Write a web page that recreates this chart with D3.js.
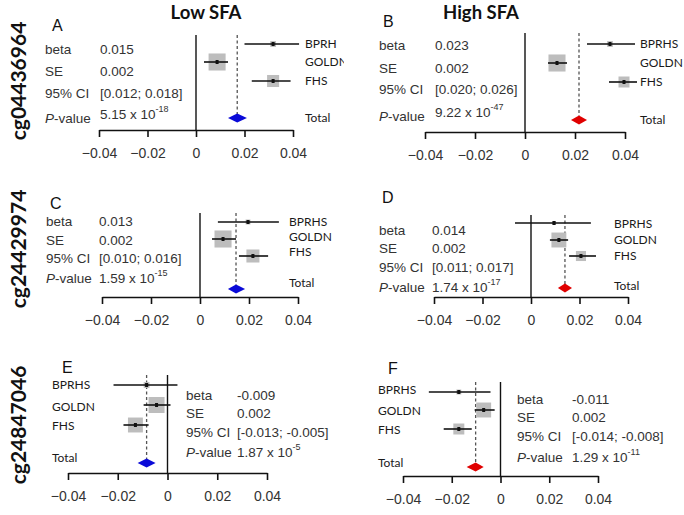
<!DOCTYPE html>
<html><head><meta charset="utf-8">
<script src="https://cdn.jsdelivr.net/npm/d3@7"></script>
<style>body{margin:0;background:#fff}</style>
</head><body><svg id="c" width="684" height="515"></svg>
<script>
// ---------------- data ----------------
const panelIds = ["A","B","C","D","E","F"];
const columnTitles = ["Low SFA","High SFA"];
const rowProbes = ["cg04436964","cg24429974","cg24847046"];
const studyLabels = [
  ["BPRH","GOLDN","FHS"],
  ["BPRHS","GOLDN","FHS"],
  ["BPRHS","GOLDN","FHS"],
  ["BPRHS","GOLDN","FHS"],
  ["BPRHS","GOLDN","FHS"],
  ["BPRHS","GOLDN","FHS"]
];
const totalLabel = "Total";
const studyEst = [
  [0.0318, 0.0087, 0.0318],
  [0.0340, 0.0128, 0.0396],
  [0.0196, 0.0094, 0.0216],
  [0.0095, 0.0115, 0.0206],
  [-0.0084, -0.0044, -0.0129],
  [-0.0171, -0.0069, -0.0171]
];
const studyLo = [
  [0.0200, 0.0033, 0.0230],
  [0.0248, 0.0092, 0.0336],
  [0.0073, 0.0049, 0.0159],
  [-0.0066, 0.0078, 0.0157],
  [-0.0217, -0.0096, -0.0177],
  [-0.0294, -0.0106, -0.0233]
];
const studyHi = [
  [0.0425, 0.0132, 0.0390],
  [0.0440, 0.0168, 0.0448],
  [0.0322, 0.0147, 0.0278],
  [0.0247, 0.0153, 0.0268],
  [0.0040, 0.0012, -0.0076],
  [-0.0041, -0.0024, -0.0118]
];
const studyWeight = [
  [7, 60, 30],
  [7, 60, 25],
  [5, 60, 35],
  [3, 46, 21],
  [7, 53, 46],
  [5, 46, 25]
];
const totalEst = [0.0170, 0.0216, 0.0147, 0.0140, -0.0084, -0.0102];
const totalLo  = [0.0132, 0.0184, 0.0114, 0.0111, -0.0120, -0.0139];
const totalHi  = [0.0210, 0.0248, 0.0184, 0.0169, -0.0048, -0.0069];
const statNames = ["beta","SE","95% CI","P-value"];
const betaText = ["0.015","0.023","0.013","0.014","-0.009","-0.011"];
const seText = ["0.002","0.002","0.002","0.002","0.002","0.002"];
const ciText = ["[0.012; 0.018]","[0.020; 0.026]","[0.010; 0.016]","[0.011; 0.017]","[-0.013; -0.005]","[-0.014; -0.008]"];
const pMantissa = ["5.15","9.22","1.59","1.74","1.87","1.29"];
const pExponent = ["-18","-47","-15","-17","-5","-11"];
const xTicks = [-0.04, -0.02, 0, 0.02, 0.04];
const xDomain = [-0.04, 0.04];

// ---------------- layout ----------------
const layout = [
  {xl:99, xr:293, axisY:130, top:35, rowY:[44,62,81,118], labY:[44,62,81,118], labX:305, stX:45, valX:100, stY:[49,71,93,118], pDy:-4, letter:[52,25], clip:344},
  {xl:425,xr:625, axisY:132, top:33, rowY:[44,63,82,120], labY:[44,63,82,120], labX:640, stX:379, valX:435, stY:[45,68,89,116], pDy:-4, letter:[383,21], clip:684},
  {xl:102,xr:298, axisY:297, top:213, rowY:[222,239,256,289], labY:[222,237,252,283], labX:289, stX:46, valX:99, stY:[221,240,258,278], pDy:0, letter:[50,203], clip:342},
  {xl:434,xr:628, axisY:297, top:215, rowY:[223,240,256,288], labY:[224,240,256,286], labX:614, stX:379, valX:432, stY:[230,248,267,287], pDy:0, letter:[382,197], clip:684},
  {xl:68, xr:267, axisY:473, top:375, rowY:[385,405,425,463], labY:[385,407,426,458], labX:52, stX:186, valX:237, stY:[395,413,432,452], pDy:0, letter:[62,367], clip:342},
  {xl:403,xr:598, axisY:476, top:382, rowY:[392,410,429,467], labY:[390,411,430,463], labX:378, stX:517, valX:572, stY:[399,417,436,457], pDy:0, letter:[388,368], clip:684}
];
const diamondFill = ["#0a0ad8","#e00000"];
const statFont = "'Liberation Sans', Arial, sans-serif";
const labFont = "Lato, 'Open Sans', sans-serif";

const svg = d3.select("#c");
svg.append("rect").attr("width",684).attr("height",515).attr("fill","#fff");

// column titles
const titleX = [206, 481];
columnTitles.forEach((t,i)=>{
  svg.append("text").attr("x",titleX[i]).attr("y",19).attr("text-anchor","middle")
    .attr("font-family",labFont).attr("font-weight","bold").attr("font-size",18.5).attr("fill","#111").text(t);
});
// row labels
const rowCY = [81, 249, 425];
rowProbes.forEach((t,i)=>{
  svg.append("text").attr("transform",`translate(26,${rowCY[i]}) rotate(-90)`).attr("text-anchor","middle")
    .attr("font-family",labFont).attr("font-weight","bold").attr("font-size",21).attr("fill","#111").text(t);
});

const defs = svg.append("defs");

panelIds.forEach((pid, p)=>{
  const L = layout[p];
  const col = p % 2;
  const clipId = "clip"+p;
  defs.append("clipPath").attr("id",clipId).append("rect")
    .attr("x", col===0?0:342).attr("y",0).attr("width", L.clip-(col===0?0:342)).attr("height",515);
  const g = svg.append("g").attr("clip-path",`url(#${clipId})`);
  const x = d3.scaleLinear().domain(xDomain).range([L.xl, L.xr]);

  // letter
  g.append("text").attr("x",L.letter[0]).attr("y",L.letter[1]).attr("dy","0.36em")
    .attr("font-family",statFont).attr("font-size",16).attr("fill","#111").text(pid);

  // axis
  const ax = d3.axisBottom(x).tickValues(xTicks).tickSize(7).tickSizeOuter(0).tickPadding(11)
    .tickFormat(d => d===0 ? "0" : d3.format(".2f")(d));
  const ag = g.append("g").attr("transform",`translate(0,${L.axisY})`).call(ax);
  ag.select(".domain").attr("stroke","#111").attr("stroke-width",1.6);
  ag.selectAll(".tick line").attr("stroke","#111").attr("stroke-width",1.6);
  ag.selectAll(".tick text").attr("font-family",statFont).attr("font-size",14).attr("fill","#333");

  // zero line
  g.append("line").attr("x1",x(0)).attr("x2",x(0)).attr("y1",L.top).attr("y2",L.axisY)
    .attr("stroke","#111").attr("stroke-width",1.4);

  // dashed line at total
  g.append("line").attr("x1",x(totalEst[p])).attr("x2",x(totalEst[p]))
    .attr("y1",L.top).attr("y2",L.rowY[3]-4)
    .attr("stroke","#555").attr("stroke-width",1.3).attr("stroke-dasharray","3,2.5");

  // studies
  studyLabels[p].forEach((s,k)=>{
    const y = L.rowY[k];
    const side = 2.2*Math.sqrt(studyWeight[p][k]);
    g.append("rect").attr("x",x(studyEst[p][k])-side/2).attr("y",y-side/2)
      .attr("width",side).attr("height",side).attr("fill","#bdbdbd");
    g.append("line").attr("x1",x(studyLo[p][k])).attr("x2",x(studyHi[p][k]))
      .attr("y1",y).attr("y2",y).attr("stroke","#111").attr("stroke-width",1.6);
    g.append("rect").attr("x",x(studyEst[p][k])-1.5).attr("y",y-2)
      .attr("width",3).attr("height",4).attr("fill","#111");
    g.append("text").attr("x",L.labX).attr("y",L.labY[k]).attr("dy","0.36em")
      .attr("font-family",labFont).attr("font-size",12).attr("fill","#1a1a1a").text(s);
  });
  // total
  const ty = L.rowY[3];
  const pts = [[x(totalLo[p]),ty],[x(totalEst[p]),ty-4.5],[x(totalHi[p]),ty],[x(totalEst[p]),ty+4.5]];
  g.append("path").attr("d","M"+pts.map(q=>q.join(",")).join("L")+"Z").attr("fill",diamondFill[col]);
  g.append("text").attr("x",L.labX).attr("y",L.labY[3]).attr("dy","0.36em")
    .attr("font-family",labFont).attr("font-size",12).attr("fill","#1a1a1a").text(totalLabel);

  // stats
  const vals = [betaText[p], seText[p], ciText[p]];
  statNames.forEach((nm,k)=>{
    const t = g.append("text").attr("x",L.stX).attr("y",L.stY[k]).attr("dy","0.36em")
      .attr("font-family",statFont).attr("font-size",13.5).attr("fill","#333");
    if (nm === "P-value") {
      t.append("tspan").attr("font-style","italic").text("P");
      t.append("tspan").text("-value");
    } else t.text(nm);
  });
  vals.forEach((v,k)=>{
    g.append("text").attr("x",L.valX).attr("y",L.stY[k]).attr("dy","0.36em")
      .attr("font-family",statFont).attr("font-size",13.5).attr("fill","#333").text(v);
  });
  const pt = g.append("text").attr("x",L.valX).attr("y",L.stY[3]+L.pDy).attr("dy","0.36em")
    .attr("font-family",statFont).attr("font-size",13.5).attr("fill","#333");
  pt.append("tspan").text(pMantissa[p]+" x 10");
  pt.append("tspan").attr("font-size",9).attr("dy","-0.75em").text(pExponent[p]);
});
</script></body></html>
